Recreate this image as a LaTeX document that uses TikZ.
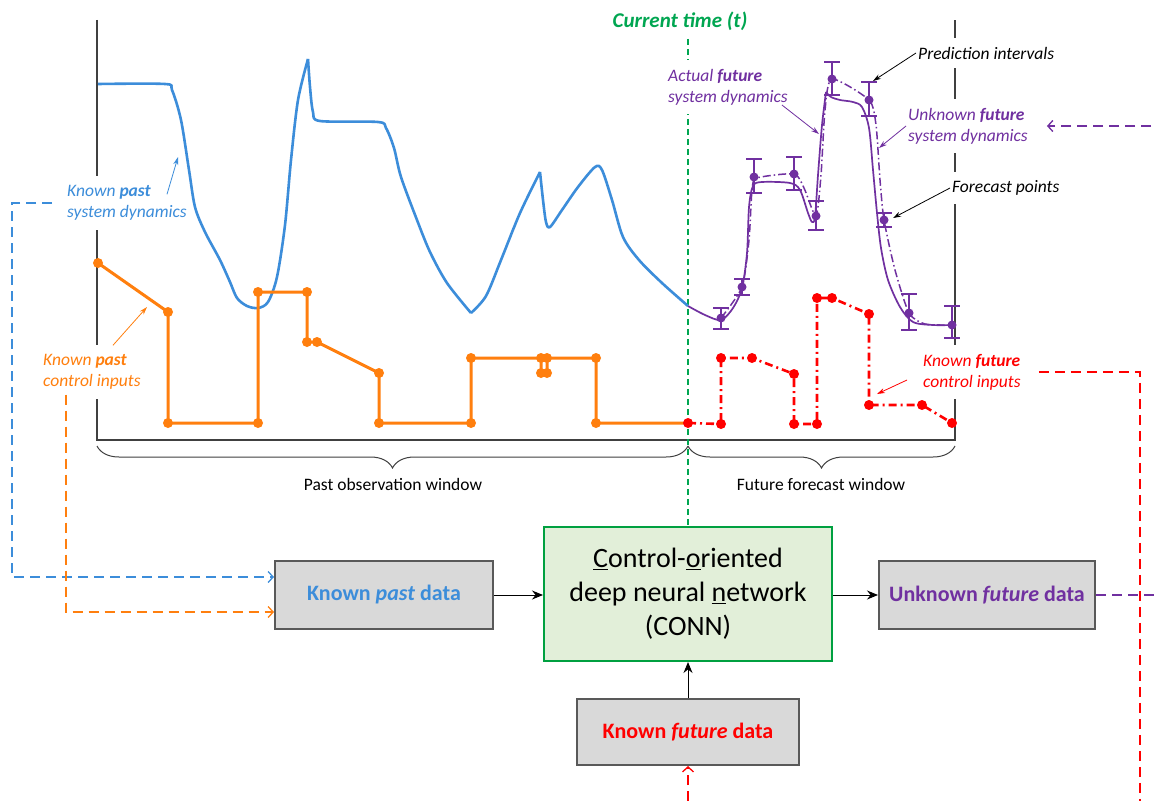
\documentclass[tikz,border=0pt]{standalone}
\usepackage{fontspec}
\setmainfont{Carlito}
\usetikzlibrary{arrows.meta,decorations.pathreplacing,calc}

\definecolor{pastblue}{HTML}{3C8DDA}
\definecolor{ctrlorange}{HTML}{FF7F0E}
\definecolor{futred}{HTML}{FF0000}
\definecolor{futpurple}{HTML}{7030A0}
\definecolor{nowgreen}{HTML}{00A651}
\definecolor{axisgray}{HTML}{404040}
\definecolor{boxgray}{HTML}{D9D9D9}
\definecolor{boxedge}{HTML}{595959}
\definecolor{connfill}{HTML}{E2EFD9}
\definecolor{connedge}{HTML}{00A040}

\begin{document}
\begin{tikzpicture}[x=1pt,y=-1pt,
  axisline/.style={draw=axisgray,line width=1.3pt},
  lbl/.style={font=\fontsize{17.5}{21}\selectfont\itshape,align=left,fill=white,
    inner xsep=2pt,inner ysep=9pt,anchor=west},
  winlbl/.style={font=\fontsize{17.5}{21}\selectfont},
  brace/.style={draw=axisgray,line width=1pt,decorate,
    decoration={brace,mirror,amplitude=22pt}},
  nowline/.style={draw=nowgreen,line width=1.4pt,dash pattern=on 6pt off 4pt},
  pastcurve/.style={draw=pastblue,line width=2.6pt,line join=round},
  ctrlpath/.style={draw=ctrlorange,line width=3pt,line join=round},
  futctrl/.style={draw=futred,line width=2.6pt,dash pattern=on 8pt off 4pt on 2pt off 4pt},
  actual/.style={draw=futpurple,line width=1.7pt,line join=round},
  forecast/.style={draw=futpurple,line width=1.5pt,dash pattern=on 8pt off 3pt on 1.5pt off 3pt},
  errbar/.style={draw=futpurple,line width=1.3pt},
  pointer/.style={-{Stealth[length=8pt,width=5pt]},line width=0.8pt},
  feed/.style={line width=1.3pt,dash pattern=on 10pt off 6pt,
    -{Straight Barb[length=5pt,width=11pt]}},
  flow/.style={-{Stealth[length=11pt,width=9pt]},line width=1pt,black},
  databox/.style={draw=boxedge,line width=2pt,fill=boxgray,minimum height=68pt,
    inner sep=0pt,font=\fontsize{22}{26}\selectfont\bfseries},
  connbox/.style={draw=connedge,line width=2pt,fill=connfill,minimum width=288pt,
    minimum height=134pt,align=center,font=\fontsize{28}{34}\selectfont}
]
\clip (0,0) rectangle (1155,800);
\fill[white] (0,0) rectangle (1155,800);

% frame of the time axis
\draw[axisline] (97,20) -- (97,440) -- (955,440) -- (955,20);

% model block and the current-time marker
\node[connbox] (conn) at (688,594)
  {\underline{C}ontrol-\underline{o}riented\\deep neural \underline{n}etwork\\(CONN)};
\node[font=\fontsize{21}{25}\selectfont\bfseries\itshape,text=nowgreen] (now) at (680,21) {Current time (t)};
\draw[nowline,shorten <=5pt] (now.south -| conn.north) -- (conn.north);

% labels of the series
\node[lbl,text=pastblue] (kpsd) at (65,203) {Known \textbf{past}\\system dynamics};
\node[lbl,text=ctrlorange] (kpci) at (41,372) {Known \textbf{past}\\control inputs};
\node[lbl,text=futpurple] (afsd) at (666,87) {Actual \textbf{future}\\system dynamics};
\node[lbl,text=futpurple] (ufsd) at (906,126) {Unknown \textbf{future}\\system dynamics};
\node[lbl,text=black] (pint) at (916,53) {Prediction intervals};
\node[lbl,text=black] (fcp) at (950,188) {Forecast points};
\node[lbl,text=futred] (kfci) at (921,372) {Known \textbf{future}\\control inputs};

% observation and forecast windows
\draw[brace] (97,446) -- (688,446);
\draw[brace] (688,446) -- (955,446);
\node[winlbl] (pastwin) at (393,484) {Past observation window};
\node[winlbl] (futwin) at (821,484) {Future forecast window};

% past system dynamics
\draw[pastcurve] plot[smooth,tension=0.5] coordinates {(98,84) (165,84) (172,90) (181,120) (189,170)
  (195,207) (205,232) (220,260) (230,282) (237,298) (247,306) (258,308) (268,302) (277,277)
  (285,225) (291,160) (298,100) (308,59)};
\draw[pastcurve] plot[smooth,tension=0.5] coordinates {(308,59) (310,87) (313,112) (320,121)
  (378,122) (386,128) (394,148) (401,177) (417,220) (430,252) (447,283) (471,313)};
\draw[pastcurve] plot[smooth,tension=0.5] coordinates {(471,313) (486,296) (501,260) (520,213) (540,172)};
\draw[pastcurve] plot[smooth,tension=0.5] coordinates {(540,172) (543,200) (546,222) (550,227)
  (562,210) (578,187) (595,167) (602,170) (612,200) (623,237) (639,260) (662,283) (688,306)};

% past control inputs
\draw[ctrlpath] plot coordinates {(98,263) (168,312) (168,423) (258,423) (258,292) (307,292)
  (307,342) (317,342) (379,373) (379,423) (471,423) (471,358) (541,358) (541,373) (547,373)
  (547,358) (596,358) (596,423) (688,423)};
\foreach \p in {(98,263),(168,312),(168,423),(258,423),(258,292),(307,292),(307,342),(317,342),
  (379,373),(379,423),(471,423),(471,358),(541,358),(541,373),(547,373),(547,358),(596,358),(596,423)}
  \fill[ctrlorange] \p circle (5pt);

% known future control inputs
\draw[futctrl] plot coordinates {(688,423) (721,424) (721,358) (752,358) (794,374) (794,424)
  (817,424) (817,298) (832,298) (869,314) (869,405) (922,405) (952,423)};
\foreach \p in {(688,423),(721,424),(721,358),(752,358),(794,374),(794,424),(817,424),(817,298),
  (832,298),(869,314),(869,405),(922,405),(952,423)}
  \fill[futred] \p circle (5pt);

% actual future dynamics
\draw[actual] plot[smooth,tension=0.5] coordinates {(688,306) (705,315) (721,320) (733,308) (742,288)
  (747,253) (749,207) (753,186) (762,182) (790,183) (800,190) (808,213) (812,222) (815,217)
  (818,175) (822,125) (826,92)};
\draw[actual] plot[smooth,tension=0.5] coordinates {(826,92) (831,97) (840,100) (853,102) (862,107)
  (869,128) (873,170) (877,213) (881,248) (888,280) (900,307) (913,322) (933,325) (952,325)};

% forecast with prediction intervals
\draw[forecast] plot[smooth,tension=0.4] coordinates {(721,318) (742,287) (749,240) (752,190)
  (757,178) (794,174) (804,188) (816,216) (821,175) (825,110) (832,79) (869,100) (876,125)
  (880,180) (884,220) (895,270) (909,313) (925,324) (952,325)};
\foreach \x/\y/\t/\b in {721/318/308/329, 742/287/279/295, 754/177/159/193, 794/174/157/190,
  816/216/201/230, 832/79/62/95, 869/100/82/116, 884/220/213/227, 909/313/294/330, 952/325/306/338}{
  \draw[errbar] (\x-8,\t) -- (\x+8,\t) (\x,\t) -- (\x,\b) (\x-8,\b) -- (\x+8,\b);
  \fill[futpurple] (\x,\y) circle (4.5pt);
}

% pointers from the labels
\coordinate (kpsdtip) at (178,157);
\coordinate (kpcitip) at (147,307);
\coordinate (afsdtip) at (819,134);
\coordinate (ufsdtip) at (879,148);
\coordinate (pinttip) at (873,81);
\coordinate (fcptip) at (893,218);
\coordinate (kfcitip) at (877,394);
\draw[pointer,pastblue] ($(kpsd.north west)+(102,18)$) -- (kpsdtip);
\draw[pointer,ctrlorange] ($(kpci.north west)+(72,0)$) -- (kpcitip);
\draw[pointer,futpurple] ($(afsd.east)+(-8,18)$) -- (afsdtip);
\draw[pointer,futpurple] (ufsd.west) -- (ufsdtip);
\draw[pointer,black] (pint.west) -- (pinttip);
\draw[pointer,black] (fcp.west) -- (fcptip);
\draw[pointer,futred] ($(kfci.west)+(-14,8)$) -- (kfcitip);

% data blocks
\node[databox,minimum width=218pt,text=pastblue] (kpd) at (384,595) {Known \textit{past} data};
\node[databox,minimum width=216pt,text=futpurple] (ukfd) at (987,595) {Unknown \textit{future} data};
\node[databox,minimum width=222pt,minimum height=66pt,text=futred] (kfd) at (688,732) {Known \textit{future} data};

\draw[flow] (kpd.east) -- (kpd.east -| conn.west);
\draw[flow] (conn.east |- ukfd.west) -- (ukfd.west);
\draw[flow] (kfd.north) -- (conn.south);

% data feeding the blocks
\draw[feed,pastblue,shorten <=13pt] (kpsd.west) -- ++(-53,0) |- ([yshift=18pt]kpd.west);
\draw[feed,ctrlorange,shorten <=-4pt] ($(kpci.south west)+(25,0)$) |- ([yshift=-17pt]kpd.west);
\draw[feed,futred,shorten <=16pt] (kfci.east) -| (1140,830) -| (kfd.south);
\draw[feed,futpurple,shorten >=17pt] (ukfd.east) -| (1185,400) |- (ufsd.east);
\end{tikzpicture}
\end{document}
